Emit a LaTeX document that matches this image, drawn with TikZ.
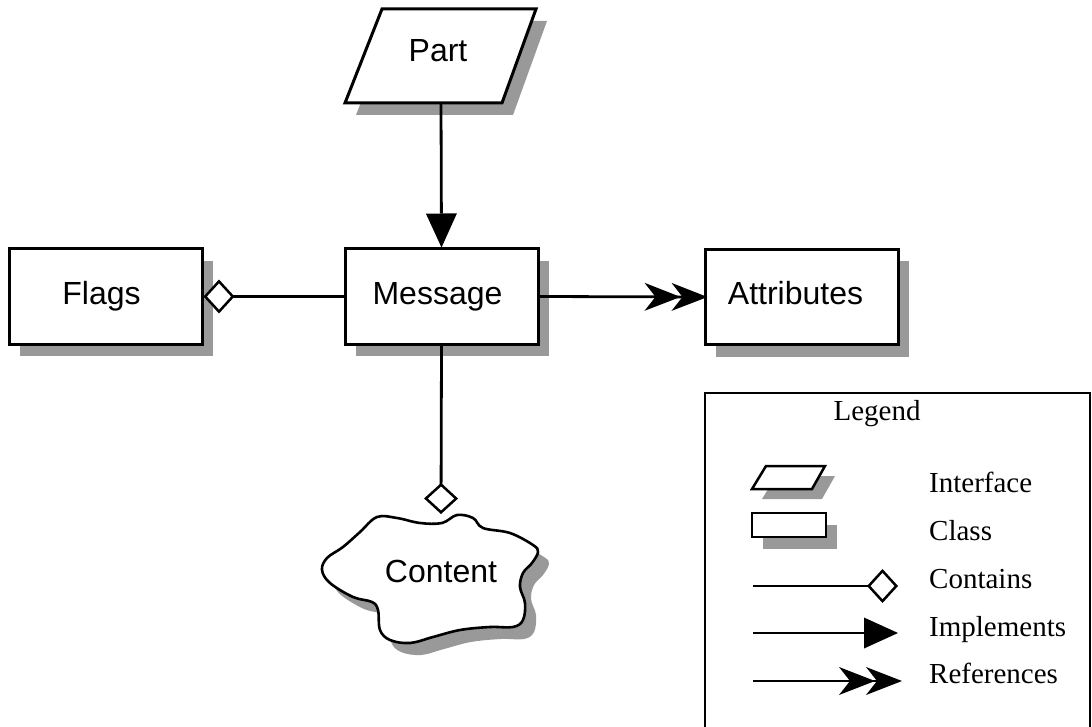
\documentclass[tikz,border=0pt]{standalone}
\usepackage{fontspec}
\setmainfont{Liberation Serif}
\newfontfamily\arialf{Liberation Sans}
\usetikzlibrary{arrows.meta,shadows}
\definecolor{shadowgray}{gray}{0.6}
\tikzset{
  shad/.style={general shadow={fill=shadowgray, shadow xshift=11pt, shadow yshift=-12pt}},
  clsbox/.style={draw, line width=3pt, fill=white, minimum width=#1, minimum height=95pt,
     inner sep=0pt, text height=23pt, text depth=7pt, font=\arialf\fontsize{32}{38}\selectfont, shad},
  lbl/.style={font=\arialf\fontsize{32}{38}\selectfont, inner sep=0pt},
  outl/.style={draw, line width=3pt, fill=white},
  conn/.style={line width=2.8pt},
  contains/.style={conn, -{Diamond[length=31pt, width=34pt, fill=white, line width=2.5pt]}},
  implements/.style={conn, -{Triangle[length=34pt, width=31pt, line width=0pt]}},
  references/.style={conn, shorten >=5pt, -{Stealth[length=36pt, width=28pt, inset=11pt, line width=0pt, sep=-9pt] Stealth[length=36pt, width=28pt, inset=11pt, line width=0pt, sep=-9pt]}},
  legtext/.style={font=\fontsize{29}{34}\selectfont, inner sep=0pt, anchor=base west},
}
\begin{document}
\begin{tikzpicture}[x=1pt,y=-1pt]
\useasboundingbox (0,0) rectangle (1092,727);
% Part (interface)
\fill[shadowgray] (393,21) -- (547,21) -- (513,115) -- (356,115) -- cycle;
\draw[outl] (382,9) -- (536,9) -- (502,103) -- (345,103) -- cycle;
\node[lbl] (part) at (438,51) {Part};
\coordinate (partb) at (441,103);
% Classes
\node[clsbox=193pt] (flags) at (105.5,296.5) {\hspace*{-8pt}Flags};
\node[clsbox=193pt] (msg) at (441.5,296.5) {\hspace*{-8pt}Message};
\node[clsbox=193pt] (attr) at (801.5,297) {\hspace*{-12pt}Attributes};
% Content cloud
\fill[shadowgray, shift={(11pt,-12pt)}] plot[smooth cycle, tension=0.6] coordinates {
 (360,532) (377,517) (397,518) (420,523) (442,523) (457,515) (473,518) (483,528) (510,533)
 (533,545) (538,552) (532,563) (523,573) (520,587) (525,603) (523,620) (513,627) (490,627)
 (460,630) (433,637) (410,643) (390,640) (380,630) (378,610) (372,602) (353,597) (330,583)
 (322,570) (327,558) (343,547)};
\draw[outl, line width=2.6pt] plot[smooth cycle, tension=0.6] coordinates {
 (360,532) (377,517) (397,518) (420,523) (442,523) (457,515) (473,518) (483,528) (510,533)
 (533,545) (538,552) (532,563) (523,573) (520,587) (525,603) (523,620) (513,627) (490,627)
 (460,630) (433,637) (410,643) (390,640) (380,630) (378,610) (372,602) (353,597) (330,583)
 (322,570) (327,558) (343,547)};
\node[lbl] (content) at (441,571) {Content};
\coordinate (ctop) at (441,514);
% Connectors
\draw[implements] (partb) -- (msg.north);
\draw[contains] (msg.west) -- (flags.east);
\draw[references] (msg.east) -- (attr.west);
\draw[contains] (msg.south) -- (ctop);
% Legend
\draw[line width=2.2pt] (705,393) rectangle (1090,760);
\node[font=\fontsize{29}{34}\selectfont, inner sep=0pt, anchor=base] (legend) at (877,420) {Legend};
\fill[shadowgray] (776,476) -- (835,476) -- (822,499) -- (762,499) -- cycle;
\draw[outl, line width=2.5pt] (766,466) -- (825,466) -- (812,489) -- (752,489) -- cycle;
\fill[shadowgray] (763,525) rectangle (837,549);
\draw[outl, line width=2.5pt] (752,513) rectangle (826,537);
\node[legtext] (tinterface) at (929,492) {Interface};
\node[legtext] (tclass) at (929,540) {Class};
\node[legtext] (tcontains) at (929,588) {Contains};
\node[legtext] (timpl) at (929,636) {Implements};
\node[legtext] (tref) at (929,683) {References};
\coordinate (c1a) at (753,586); \coordinate (c1b) at (898,586);
\coordinate (c2a) at (753,633); \coordinate (c2b) at (898,633);
\coordinate (c3a) at (753,681); \coordinate (c3b) at (898,681);
\draw[contains, line width=2.4pt] (c1a) -- (c1b);
\draw[implements, line width=2.4pt] (c2a) -- (c2b);
\draw[references, line width=2.4pt] (c3a) -- (c3b);
\end{tikzpicture}
\end{document}
